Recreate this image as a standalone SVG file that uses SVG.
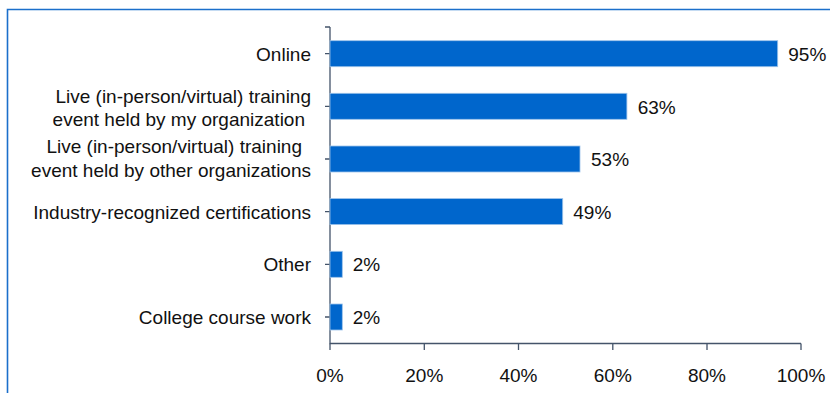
<svg xmlns="http://www.w3.org/2000/svg" width="830" height="393" viewBox="0 0 830 393">
<style>
text{font-family:"Liberation Sans",Arial,sans-serif;font-size:19px;fill:#111}
.cat{text-anchor:end}
.tick{text-anchor:middle}
.bar{fill:#0066CC;stroke:#9DC3EA;stroke-width:0.8}
.ax{stroke:#44546A;stroke-width:1.3;fill:none}
</style>
<rect x="0" y="0" width="830" height="393" fill="#fff"/>
<path d="M7.5,400 V9.5 H840" fill="none" stroke="#1B6FCB" stroke-width="1.6"/>
<g id="axes" class="ax">
<path d="M330,27 V343.5 H801"/>
<path d="M325,27 H330 M325,53.7 H330 M325,106.3 H330 M325,159 H330 M325,211.6 H330 M325,264.3 H330 M325,317 H330"/>
<path d="M330,343.5 V350 M424.3,343.5 V350 M518.5,343.5 V350 M612.8,343.5 V350 M707,343.5 V350 M801,343.5 V350"/>
</g>
<g id="tick-labels">
<text class="tick" x="330" y="382">0%</text>
<text class="tick" x="424.3" y="382">20%</text>
<text class="tick" x="518.5" y="382">40%</text>
<text class="tick" x="612.8" y="382">60%</text>
<text class="tick" x="707" y="382">80%</text>
<text class="tick" x="801" y="382">100%</text>
</g>
<g id="online">
<rect class="bar" x="330" y="40.7" width="447.7" height="26"/>
<text class="cat" x="311" y="61">Online</text>
<text x="788.3" y="61">95%</text>
</g>
<g id="live-my-org">
<rect class="bar" x="330" y="93.3" width="296.9" height="26"/>
<text class="cat" x="311" y="102.5">Live (in-person/virtual) training</text>
<text class="cat" x="305" y="125.5">event held by my organization</text>
<text x="637.7" y="113.5">63%</text>
</g>
<g id="live-other-org">
<rect class="bar" x="330" y="146" width="250" height="26"/>
<text class="cat" x="302" y="153">Live (in-person/virtual) training</text>
<text class="cat" x="311" y="176.5">event held by other organizations</text>
<text x="591" y="166">53%</text>
</g>
<g id="certifications">
<rect class="bar" x="330" y="198.6" width="232.7" height="26"/>
<text class="cat" x="311" y="218.5">Industry-recognized certifications</text>
<text x="573.3" y="218.5">49%</text>
</g>
<g id="other">
<rect class="bar" x="330" y="251.3" width="12.3" height="26"/>
<text class="cat" x="311" y="271">Other</text>
<text x="352.7" y="271">2%</text>
</g>
<g id="college">
<rect class="bar" x="330" y="304" width="12.3" height="26"/>
<text class="cat" x="311" y="324">College course work</text>
<text x="352.7" y="324">2%</text>
</g>
</svg>
